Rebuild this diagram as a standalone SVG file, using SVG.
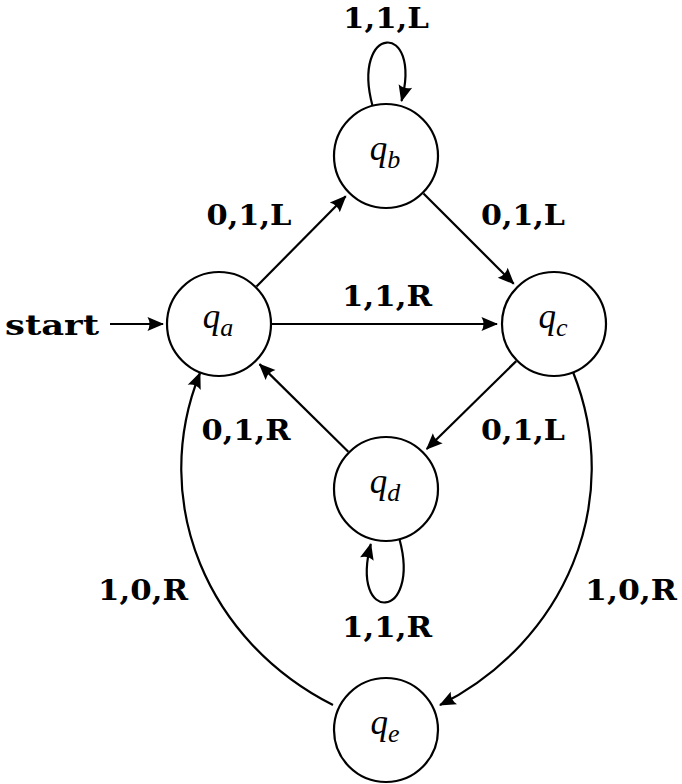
<svg xmlns="http://www.w3.org/2000/svg" width="682" height="784" viewBox="0 0 682 784">
<style>
.st{fill:#fff;stroke:#000;stroke-width:2.2}
.ql{font-family:"Liberation Serif","DejaVu Serif",serif;font-style:italic;font-size:35px;fill:#000}
.sub{font-size:26px}
.lb{font-family:"DejaVu Serif","Liberation Serif",serif;font-weight:bold;font-size:27px;fill:#000}
.e{fill:none;stroke:#000;stroke-width:2.2;marker-end:url(#ah)}
</style>
<defs>
<marker id="ah" markerUnits="userSpaceOnUse" markerWidth="19" markerHeight="16" viewBox="0 0 19 16" refX="16" refY="8" orient="auto">
<path d="M17,8 L0.5,1 Q4.5,8 0.5,15 Z" fill="#000"/>
</marker>
</defs>
<g id="connectors">
<path class="e" d="M110,324 L163,324"/>
<path class="e" d="M256.5,286.5 L345.7,196.3"/>
<path class="e" d="M423.5,193.5 L513.7,283.7"/>
<path class="e" d="M272,324 L497,324"/>
<path class="e" d="M516.2,361.1 L426.7,449"/>
<path class="e" d="M348.3,451.8 L259.5,364.1"/>
<path class="e" d="M573,372 C625,502 565,642 440,705"/>
<path class="e" d="M333,705 C208,642 148,502 200,373"/>
<path class="e" d="M372.5,105.8 C350.7,24.6 422.6,20 401.5,101"/>
<path class="e" d="M399.5,539.2 C421.3,620.3 349.5,625.1 370.8,544"/>
</g>
<g id="labels">
<text class="lb" x="5" y="335" font-size="34" textLength="94" lengthAdjust="spacingAndGlyphs">start</text>
<text class="lb" x="386" y="28" text-anchor="middle" textLength="86" lengthAdjust="spacingAndGlyphs">1,1,L</text>
<text class="lb" x="249" y="225" text-anchor="middle" textLength="85" lengthAdjust="spacingAndGlyphs">0,1,L</text>
<text class="lb" x="523" y="225" text-anchor="middle" textLength="84" lengthAdjust="spacingAndGlyphs">0,1,L</text>
<text class="lb" x="387" y="306" text-anchor="middle" textLength="90" lengthAdjust="spacingAndGlyphs">1,1,R</text>
<text class="lb" x="246" y="440" text-anchor="middle" textLength="89" lengthAdjust="spacingAndGlyphs">0,1,R</text>
<text class="lb" x="523" y="440" text-anchor="middle" textLength="84" lengthAdjust="spacingAndGlyphs">0,1,L</text>
<text class="lb" x="387" y="637" text-anchor="middle" textLength="90" lengthAdjust="spacingAndGlyphs">1,1,R</text>
<text class="lb" x="143" y="600" text-anchor="middle" textLength="90" lengthAdjust="spacingAndGlyphs">1,0,R</text>
<text class="lb" x="631" y="600" text-anchor="middle" textLength="92" lengthAdjust="spacingAndGlyphs">1,0,R</text>
</g>
<g id="qa"><circle class="st" cx="219" cy="324" r="52"/><text class="ql" x="218" y="328" text-anchor="middle">q<tspan class="sub" dy="8">a</tspan></text></g>
<g id="qb"><circle class="st" cx="386" cy="156" r="52"/><text class="ql" x="385" y="160" text-anchor="middle">q<tspan class="sub" dy="8">b</tspan></text></g>
<g id="qc"><circle class="st" cx="554" cy="324" r="52"/><text class="ql" x="553" y="328" text-anchor="middle">q<tspan class="sub" dy="8">c</tspan></text></g>
<g id="qd"><circle class="st" cx="386" cy="489" r="52"/><text class="ql" x="385" y="493" text-anchor="middle">q<tspan class="sub" dy="8">d</tspan></text></g>
<g id="qe"><circle class="st" cx="386" cy="730" r="52"/><text class="ql" x="385" y="734" text-anchor="middle">q<tspan class="sub" dy="8">e</tspan></text></g>
</svg>
